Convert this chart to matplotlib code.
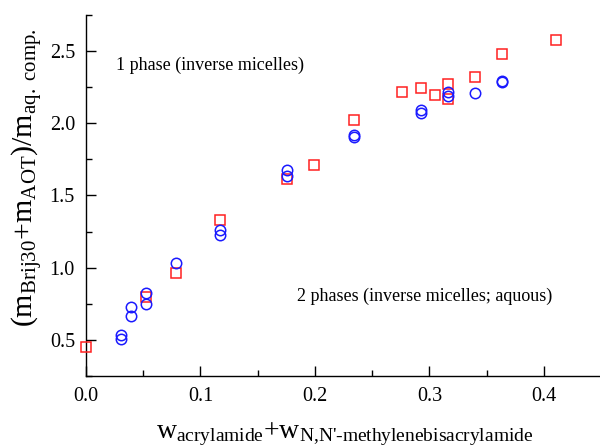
import matplotlib
matplotlib.use("Agg")
import matplotlib.pyplot as plt
from matplotlib.ticker import MultipleLocator

plt.rcParams['font.family'] = ['Liberation Serif', 'DejaVu Serif']
plt.rcParams['mathtext.fontset'] = 'custom'
plt.rcParams['mathtext.rm'] = 'Liberation Serif'
plt.rcParams['mathtext.it'] = 'Liberation Serif:italic'
plt.rcParams['mathtext.default'] = 'rm'

# red squares
sq_x = [0.0, 0.0527, 0.0788, 0.1174, 0.176, 0.199, 0.2345, 0.2757, 0.293, 0.3046,
        0.316, 0.316, 0.340, 0.3635, 0.4104]
sq_y = [0.45, 0.796, 0.963, 1.328, 1.611, 1.713, 2.023, 2.22, 2.247, 2.194,
        2.271, 2.165, 2.322, 2.477, 2.574]
# blue circles
ci_x = [0.031, 0.031, 0.039, 0.039, 0.0527, 0.0527, 0.0788, 0.1174, 0.1174,
        0.176, 0.176, 0.2345, 0.2345, 0.293, 0.293, 0.316, 0.316, 0.340,
        0.3635, 0.3635]
ci_y = [0.537, 0.505, 0.727, 0.665, 0.828, 0.752, 1.033, 1.259, 1.229,
        1.676, 1.634, 1.917, 1.905, 2.09, 2.07, 2.218, 2.19, 2.211,
        2.294, 2.285]

fig = plt.figure(figsize=(6, 4.48), dpi=100)
ax = fig.add_axes([86/600, 1-376/448, 1-86/600, (376-15)/448])

ax.plot(sq_x, sq_y, linestyle='none', marker='s', markersize=6.5,
        markerfacecolor='none', markeredgecolor='#ff2020', markeredgewidth=1.1,
        clip_on=False, zorder=3)
ax.plot(ci_x, ci_y, linestyle='none', marker='o', markersize=7.5,
        markerfacecolor='none', markeredgecolor='#1a1aff', markeredgewidth=1.1,
        clip_on=False, zorder=4)

ax.set_xlim(0, 0.449)
ax.set_ylim(0.25, 2.75)
ax.xaxis.set_minor_locator(MultipleLocator(0.05))
ax.yaxis.set_minor_locator(MultipleLocator(0.25))
ax.set_xticks([0.0, 0.1, 0.2, 0.3, 0.4])
ax.set_xticklabels(['0.0', '0.1', '0.2', '0.3', '0.4'])
ax.set_yticks([0.5, 1.0, 1.5, 2.0, 2.5])
ax.set_yticklabels(['0.5', '1.0', '1.5', '2.0', '2.5'])

for s in ['top', 'right']:
    ax.spines[s].set_visible(False)
for s in ['left', 'bottom']:
    ax.spines[s].set_linewidth(1.0)
ax.tick_params(which='both', direction='in', labelsize=14.5, width=1.0)
ax.tick_params(which='major', length=7, pad=8)
ax.tick_params(which='minor', length=4)

ax.text(0.026, 2.40, '1 phase (inverse micelles)', fontsize=13, va='center', ha='left')
ax.text(0.184, 0.80, '2 phases (inverse micelles; aquous)', fontsize=13, va='center', ha='left')

fig.text(345/600, 1-434/448,
         r"$\mathrm{w}_{\mathrm{acrylamide}}\mathrm{+w}_{\text{N,N'-methylenebisacrylamide}}$",
         fontsize=20, ha='center', va='center')
fig.text(28/600, 1-178/448,
         r"$\mathrm{(m}_{\mathrm{Brij30}}\mathrm{+m}_{\mathrm{AOT}}\mathrm{)/m}_{\mathrm{aq.\ comp.}}$",
         fontsize=21.5, ha='center', va='center', rotation=90)

fig.savefig('out.png', dpi=100)
